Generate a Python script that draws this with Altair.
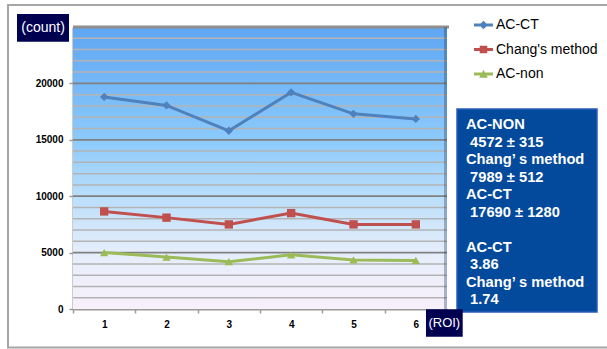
import altair as alt
import pandas as pd

# ROI index and mean counts per method
roi = [1, 2, 3, 4, 5, 6]
ac_ct = [18800, 18050, 15800, 19200, 17300, 16850]
chang = [8650, 8100, 7500, 8500, 7500, 7500]
ac_non = [5000, 4600, 4200, 4800, 4350, 4300]

series_names = ["AC-CT", "Chang's method", "AC-non"]
series_colors = ["#4f81bd", "#c0504d", "#9bbb59"]
series_shapes = ["diamond", "square", "triangle-up"]
# legend keys: a short line segment with the series marker on it
legend_paths = [
    "M-1,-0.16H1V0.16H-1Z M0,-0.46L0.46,0L0,0.46L-0.46,0Z",
    "M-1,-0.16H1V0.16H-1Z M-0.4,-0.4H0.4V0.4H-0.4Z",
    "M-1,-0.16H1V0.16H-1Z M0,-0.46L0.46,0.4H-0.46Z",
]

y_ticks = [0, 5000, 10000, 15000, 20000]
y_max = 25000
minor_grid = [1000, 2000, 3000, 4000, 6000, 7000, 8000, 9000, 11000, 12000,
              13000, 14000, 16000, 17000, 18000, 19000, 21000, 22000, 23000, 24000]
major_grid = [5000, 10000, 15000, 20000]

IND = "\u200b\u00a0"  # small indent in front of the numbers
stats_means = ["AC-NON", IND + "4572 \u00b1 315", "Chang\u2019 s method", IND + "7989 \u00b1 512",
               "AC-CT", IND + "17690 \u00b1 1280"]
stats_ratio = ["AC-CT", IND + "3.86", "Chang\u2019 s method", IND + "1.74"]

W, H = 374, 282
FONT = "Liberation Sans"
LH = 17.5

rows = []
for name, vals in zip(series_names, [ac_ct, chang, ac_non]):
    for r, v in zip(roi, vals):
        rows.append({"roi": r, "count": v, "series": name})
df = pd.DataFrame(rows)
one = pd.DataFrame({"k": [0]})

yscale = alt.Scale(domain=[0, y_max], nice=False, zero=True)
xscale = alt.Scale(type="band", paddingInner=0, paddingOuter=0)

y_axis = alt.Axis(
    values=y_ticks, format="d", domainColor="#9a9a9a", domainWidth=2, tickColor="#9a9a9a",
    tickWidth=1.5, tickSize=4, labelFont=FONT, labelFontSize=10,
    labelFontWeight="bold", labelColor="#000000", labelPadding=6, grid=False,
)
x_axis = alt.Axis(
    labelAngle=0, tickBand="extent", domainColor="#9a9a9a", domainWidth=2,
    tickColor="#9a9a9a", tickWidth=1.5, tickSize=4, labelFont=FONT,
    labelFontSize=10, labelFontWeight="bold", labelColor="#000000",
    labelPadding=6, grid=False,
)

# outer frame around the whole figure
frame = alt.Chart(one).mark_rect(fillOpacity=0, stroke="#a6a6a6", strokeWidth=2).encode(
    x=alt.value(-65), x2=alt.value(545), y=alt.value(-22), y2=alt.value(320.5)
)

# gradient plot background
grad = alt.Gradient(
    gradient="linear", x1=0, y1=0, x2=0, y2=1,
    stops=[
        alt.GradientStop(color="#5ea6f3", offset=0),
        alt.GradientStop(color="#8ccafb", offset=0.4),
        alt.GradientStop(color="#b9defb", offset=0.6),
        alt.GradientStop(color="#e6eefb", offset=0.8),
        alt.GradientStop(color="#f8f0fb", offset=1),
    ],
)
bg = alt.Chart(one).mark_rect(fill=grad).encode(
    x=alt.value(0), x2=alt.value(W), y=alt.value(0), y2=alt.value(H)
)

minor = alt.Chart(pd.DataFrame({"count": minor_grid})).mark_rule(
    color="#b3b3b3", strokeWidth=1.5
).encode(y=alt.Y("count:Q", scale=yscale, axis=y_axis, title=None))

major = alt.Chart(pd.DataFrame({"count": major_grid})).mark_rule(
    color="#808080", strokeWidth=1.7
).encode(y=alt.Y("count:Q", scale=yscale, axis=y_axis, title=None))

top_edge = alt.Chart(pd.DataFrame({"count": [y_max]})).mark_rule(
    color="#8f8f8f", strokeWidth=3
).encode(y=alt.Y("count:Q", scale=yscale, axis=y_axis, title=None),
         x=alt.value(0), x2=alt.value(W + 2))

right_edge = alt.Chart(one).mark_rule(color="#1f3f6f", strokeWidth=3, opacity=0.35).encode(
    x=alt.value(W - 1.5), y=alt.value(0), y2=alt.value(H)
)

legend = alt.Legend(
    orient="none", legendX=401, legendY=-11.5, title=None, padding=0,
    symbolSize=361, symbolStrokeWidth=0, symbolOpacity=1, labelFont=FONT,
    labelFontSize=14, labelColor="#000000", labelOffset=3, rowPadding=7.5,
)

x_enc = alt.X("roi:O", scale=xscale, title=None, axis=x_axis)
y_enc = alt.Y("count:Q", scale=yscale, title=None, axis=y_axis)
color_enc = alt.Color(
    "series:N", sort=series_names,
    scale=alt.Scale(domain=series_names, range=series_colors), legend=legend,
)

lines = alt.Chart(df).mark_line(strokeWidth=3).encode(
    x=x_enc, y=y_enc, color=color_enc, detail="series:N"
)

point_layers = []
for name, shp in zip(series_names, series_shapes):
    point_layers.append(
        alt.Chart(df).transform_filter(alt.datum.series == name)
        .mark_point(filled=True, size=70, opacity=1, shape=shp)
        .encode(x=x_enc, y=y_enc, color=color_enc)
    )

# invisible layer that carries the legend keys
legend_layer = alt.Chart(df).mark_point(filled=True, opacity=0).encode(
    x=x_enc, y=y_enc, color=color_enc,
    shape=alt.Shape("series:N", sort=series_names,
                    scale=alt.Scale(domain=series_names, range=legend_paths), legend=legend),
)

# statistics panel
panel = alt.Chart(one).mark_rect(fill="#034a9c", stroke="#2a5cbc", strokeWidth=1.5).encode(
    x=alt.value(384), x2=alt.value(524), y=alt.value(82), y2=alt.value(285)
)
text_style = dict(align="left", baseline="top", font=FONT, fontSize=14.7,
                  fontWeight="bold", color="#ffffff", lineHeight=LH)
panel_means = alt.Chart(one).mark_text(text=stats_means, **text_style).encode(
    x=alt.value(393), y=alt.value(90)
)
panel_ratio = alt.Chart(one).mark_text(text=stats_ratio, **text_style).encode(
    x=alt.value(393), y=alt.value(90 + 7 * LH)
)

# axis unit tags
count_box = alt.Chart(one).mark_rect(fill="#000050").encode(
    x=alt.value(-56), x2=alt.value(-4), y=alt.value(-13), y2=alt.value(14.7)
)
count_txt = alt.Chart(one).mark_text(
    text="(count)", font=FONT, fontSize=14, color="#ffffff", align="center", baseline="middle"
).encode(x=alt.value(-30), y=alt.value(1))
roi_box = alt.Chart(one).mark_rect(fill="#000050").encode(
    x=alt.value(353), x2=alt.value(389.7), y=alt.value(H + 0.3), y2=alt.value(H + 27.7)
)
roi_txt = alt.Chart(one).mark_text(
    text="(ROI)", font=FONT, fontSize=13, color="#ffffff", align="center", baseline="middle"
).encode(x=alt.value(371.3), y=alt.value(H + 14))

chart = alt.layer(
    frame, bg, minor, major, top_edge, right_edge, lines, *point_layers, legend_layer,
    panel, panel_means, panel_ratio, count_box, count_txt, roi_box, roi_txt,
).properties(
    width=W, height=H,
    autosize=alt.AutoSizeParams(type="none"),
    padding={"left": 73, "top": 27, "right": 160, "bottom": 40},
    background="#ffffff",
).configure_view(stroke=None)

chart.save("out.html", embed_options={"renderer": "svg", "actions": False})
